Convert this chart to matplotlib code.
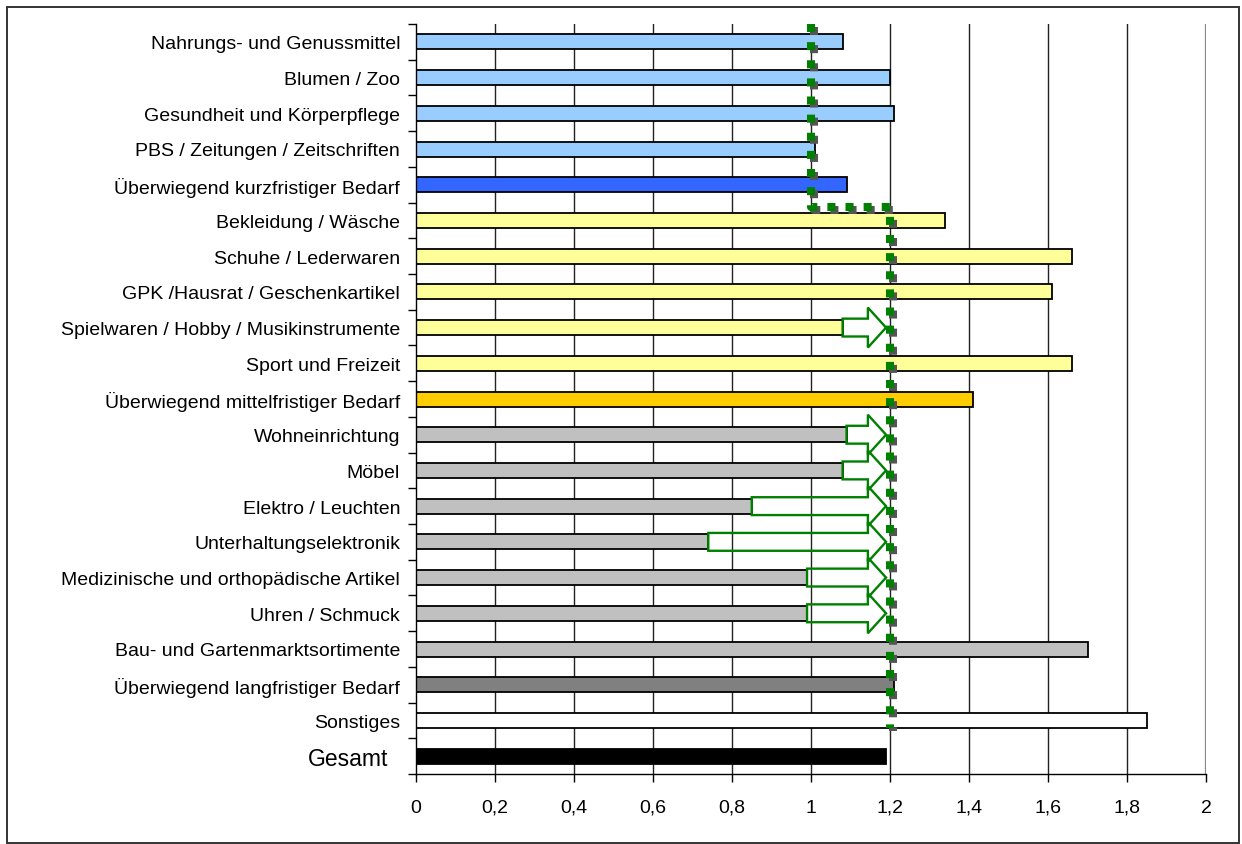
import matplotlib
matplotlib.use("Agg")
import matplotlib.pyplot as plt
import matplotlib.patheffects as pe
from matplotlib.patches import FancyArrow, Rectangle
import numpy as np

plt.rcParams['font.family'] = ['Liberation Sans', 'DejaVu Sans']

# Centrality index per retail assortment
categories = [
    "Nahrungs- und Genussmittel",
    "Blumen / Zoo",
    "Gesundheit und Körperpflege",
    "PBS / Zeitungen / Zeitschriften",
    "Überwiegend kurzfristiger Bedarf",
    "Bekleidung / Wäsche",
    "Schuhe / Lederwaren",
    "GPK /Hausrat / Geschenkartikel",
    "Spielwaren / Hobby / Musikinstrumente",
    "Sport und Freizeit",
    "Überwiegend mittelfristiger Bedarf",
    "Wohneinrichtung",
    "Möbel",
    "Elektro / Leuchten",
    "Unterhaltungselektronik",
    "Medizinische und orthopädische Artikel",
    "Uhren / Schmuck",
    "Bau- und Gartenmarktsortimente",
    "Überwiegend langfristiger Bedarf",
    "Sonstiges",
    "Gesamt",
]
values = [1.08, 1.20, 1.21, 1.01, 1.09,
          1.34, 1.66, 1.61, 1.08, 1.66, 1.41,
          1.09, 1.08, 0.85, 0.74, 0.99, 0.99, 1.70, 1.21,
          1.85, 1.19]
colors = (["#99CCFF"] * 4 + ["#3366FF"]
          + ["#FFFF99"] * 5 + ["#FFCC00"]
          + ["#C0C0C0"] * 7 + ["#808080"]
          + ["#FFFFFF", "#000000"])

tick_values = [0, 0.2, 0.4, 0.6, 0.8, 1.0, 1.2, 1.4, 1.6, 1.8, 2.0]
tick_labels = ["0", "0,2", "0,4", "0,6", "0,8", "1", "1,2", "1,4", "1,6", "1,8", "2"]

# Target levels: 1.0 for short-term needs, 1.2 from medium-term needs on
short_term_level = 1.0
target_level = 1.2
first_target_row = "Bekleidung / Wäsche"
last_target_row = "Sonstiges"

# Assortments with development potential up to the target level
arrow_rows = [
    "Spielwaren / Hobby / Musikinstrumente",
    "Wohneinrichtung",
    "Möbel",
    "Elektro / Leuchten",
    "Unterhaltungselektronik",
    "Medizinische und orthopädische Artikel",
    "Uhren / Schmuck",
]

W, H = 1242, 845
fig = plt.figure(figsize=(W / 100, H / 100), dpi=100)
ax = fig.add_axes([416 / W, 1 - 775 / H, 790 / W, 750 / H])

y = np.arange(len(categories))
ax.barh(y, values, height=0.42, color=colors, edgecolor="black",
        linewidth=1.3, zorder=2)

ax.set_xlim(0, 2)
ax.set_ylim(len(categories) - 0.5, -0.5)

for t in tick_values[1:-1]:
    ax.axvline(t, color="#222222", lw=1.0, zorder=0)
ax.axvline(tick_values[-1], color="#888888", lw=1.6, zorder=0)

for side in ("top", "right"):
    ax.spines[side].set_visible(False)
for side in ("left", "bottom"):
    ax.spines[side].set_color("black")
    ax.spines[side].set_linewidth(1.0)

# Dotted target line with drop shadow
i_first = categories.index(first_target_row)
i_last = categories.index(last_target_row)
bend = i_first - 0.38
ax.plot([short_term_level, short_term_level, target_level, target_level],
        [-0.5, bend, bend, i_last + 0.2],
        color="#008000", lw=5.8, linestyle=(0, (1, 1.25)),
        dash_capstyle="butt", solid_capstyle="butt", zorder=4, clip_on=False,
        path_effects=[pe.SimpleLineShadow(offset=(2, -2.5),
                                          shadow_color="#555555", alpha=1.0),
                      pe.Normal()])

# Block arrows from the current value to the target level
tip = target_level - 0.01
for name in arrow_rows:
    i = categories.index(name)
    v = values[i]
    ax.add_patch(FancyArrow(v, i, tip - v, 0, width=0.5, head_width=1.12,
                            head_length=0.046, length_includes_head=True,
                            fill=False, edgecolor="#008000", lw=1.7, zorder=3))

ax.set_yticks(y)
ax.set_yticklabels(categories, fontsize=14)
ax.set_yticks(np.arange(-0.5, len(categories)), minor=True)
ax.tick_params(axis="y", which="major", length=0, pad=11.5)
ax.tick_params(axis="y", which="minor", length=6, width=1, direction="out",
               color="black")
gesamt_tick = ax.yaxis.get_major_ticks()[-1]
gesamt_tick.label1.set_fontsize(16.5)
gesamt_tick.set_pad(20)

ax.set_xticks(tick_values)
ax.set_xticklabels(tick_labels, fontsize=14)
ax.tick_params(axis="x", length=6, width=1, direction="out", pad=12,
               color="black")

fig.add_artist(Rectangle((7 / W, 1.5 / H), 1232 / W, 835.5 / H,
                         transform=fig.transFigure, fill=False,
                         edgecolor="#333333", lw=1.4))

fig.savefig("out.png", dpi=100)
